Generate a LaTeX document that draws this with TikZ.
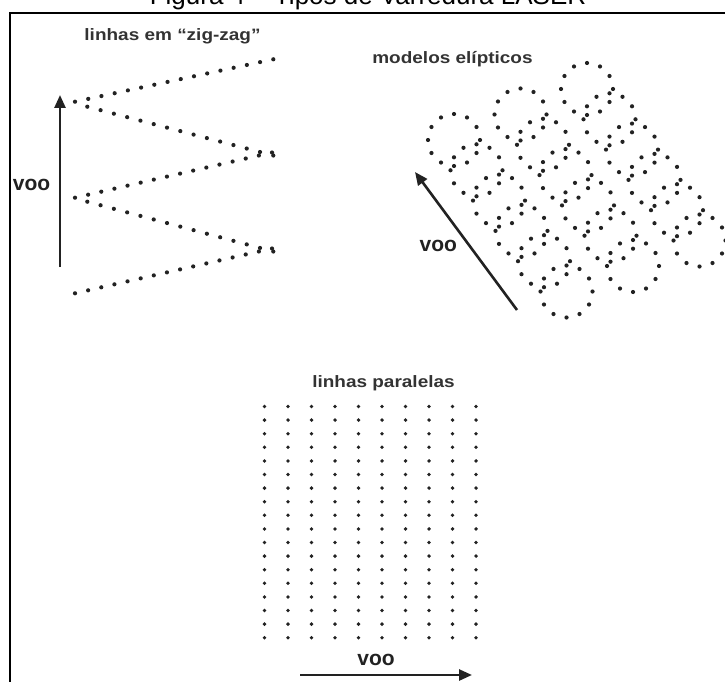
\documentclass[tikz,border=0pt]{standalone}
\usepackage{fontspec}
\setmainfont{Liberation Sans}
\newfontfamily\lblfont{Liberation Sans}[FakeStretch=1.15]
\usetikzlibrary{arrows.meta,calc}

\definecolor{ink}{HTML}{222222}
\definecolor{lblgray}{HTML}{333333}

\tikzset{
  lbl/.style={font=\lblfont\bfseries\fontsize{16.5}{18}\selectfont, text=lblgray, anchor=base, inner sep=0pt},
  voolbl/.style={font=\bfseries\fontsize{21}{24}\selectfont, text=ink, anchor=base, inner sep=0pt},
  flight/.style={line width=2.6pt, draw=ink, -{Triangle[length=13pt,width=11pt]}},
}

% row of laser points from #1 to #2, #3 gaps
\newcommand\dotrow[3]{%
  \foreach \k in {0,...,#3} \fill[ink] ($(#1)!\k/#3!(#2)$) circle (2.1pt);}

\begin{document}
\begin{tikzpicture}[x=1pt,y=-1pt]
  \useasboundingbox (0,0) rectangle (725,682);

  % caption and frame
  \node[font=\fontsize{26}{30}\selectfont, anchor=base, inner sep=0pt] (caption) at (368,5) {Figura 4 – Tipos de Varredura LASER};
  \draw[line width=2pt] (10,700) -- (10,13) -- (740,13);

  % zig-zag
  \node[lbl] (zzTitle) at (172.5,40.7) {linhas em “zig-zag”};
  \coordinate (z1a) at (75,101.7);   \coordinate (z1b) at (273.3,59.3);
  \coordinate (z2a) at (87.3,106.7); \coordinate (z2b) at (273.3,155.5);
  \coordinate (z3a) at (75,197.7);   \coordinate (z3b) at (272,152.5);
  \coordinate (z4a) at (87.3,201.7); \coordinate (z4b) at (273.3,251.5);
  \coordinate (z5a) at (75,293.3);   \coordinate (z5b) at (272,248.5);
  \dotrow{z1a}{z1b}{15}
  \dotrow{z2a}{z2b}{14}
  \dotrow{z3a}{z3b}{15}
  \dotrow{z4a}{z4b}{14}
  \dotrow{z5a}{z5b}{15}
  \coordinate (zzTail) at (60,267);
  \coordinate (zzHead) at (60,95);
  \draw[flight] (zzTail) -- (zzHead);
  \node[voolbl] (zzVoo) at (31.5,190) {voo};

  % elliptic (Palmer) pattern
  \node[lbl] (elTitle) at (452.5,63.3) {modelos elípticos};
  \coordinate (e0) at (454,140);
  \foreach \i in {0,1,2}
    \foreach \j in {0,...,5}
      \foreach \a in {0,30,...,330}
        \fill[ink] ($(e0)+\i*(66.5,-25.5)+\j*(22.5,30.3)+(\a:26)$) circle (2.1pt);
  \coordinate (elTail) at (517,310);
  \coordinate (elHead) at (415,172);
  \draw[flight] (elTail) -- (elHead);
  \node[voolbl] (elVoo) at (438.3,251.7) {voo};

  % parallel lines
  \node[lbl] (plTitle) at (383.5,387.3) {linhas paralelas};
  \foreach \c in {0,...,9}
    \foreach \r in {0,...,17}
      \fill[ink] ({264.5+23.5*\c},{406.5+13.6*\r}) circle (1.9pt);
  \node[voolbl] (plVoo) at (376,665) {voo};
  \coordinate (plTail) at (300,675);
  \coordinate (plHead) at (472,675);
  \draw[flight] (plTail) -- (plHead);
\end{tikzpicture}
\end{document}
